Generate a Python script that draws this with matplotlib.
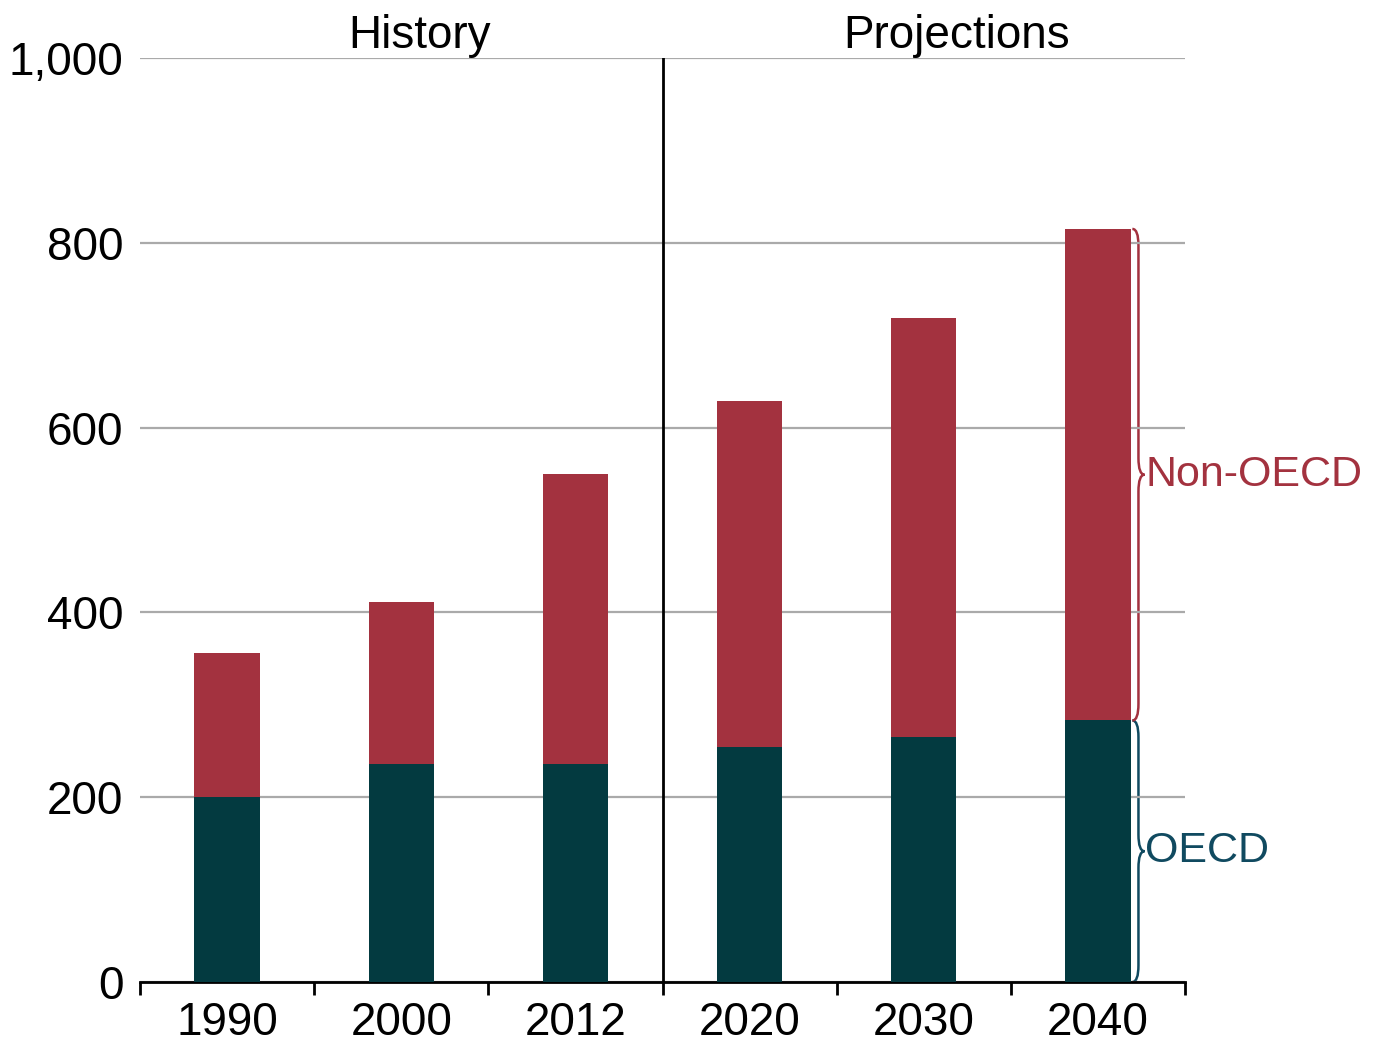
import numpy as np
import matplotlib.pyplot as plt
from matplotlib.path import Path
from matplotlib.patches import PathPatch

plt.rcParams['font.family'] = ['Liberation Sans', 'DejaVu Sans']

years = ['1990', '2000', '2012', '2020', '2030', '2040']
oecd = [200, 236, 236, 254, 265, 283]
non_oecd = [156, 175, 314, 375, 454, 532]
yticks = [0, 200, 400, 600, 800, 1000]
ytick_labels = ['0', '200', '400', '600', '800', '1,000']

red = '#A3323F'
teal = '#033A40'
label_blue = '#104A60'


# curly brace along a vertical span, bulging to the right
def brace(ax, x, y0, y1, w, color):
    ym = (y0 + y1) / 2
    h = min(18, (y1 - y0) / 6)
    xm = x + w / 2
    verts = [(x, y0), (xm, y0), (xm, y0 + h),
             (xm, ym - h),
             (xm, ym), (x + w, ym),
             (xm, ym), (xm, ym + h),
             (xm, y1 - h),
             (xm, y1), (x, y1)]
    codes = [Path.MOVETO, Path.CURVE3, Path.CURVE3,
             Path.LINETO,
             Path.CURVE3, Path.CURVE3,
             Path.CURVE3, Path.CURVE3,
             Path.LINETO,
             Path.CURVE3, Path.CURVE3]
    ax.add_patch(PathPatch(Path(verts, codes), fill=False, edgecolor=color,
                           lw=1.8, clip_on=False))


fig = plt.figure(figsize=(13.77, 10.49), dpi=100)
ax = fig.add_axes([0.1017, 0.0639, 0.7589, 0.8808])

x = np.arange(len(years))
bw = 0.375
ax.bar(x, oecd, width=bw, color=teal, zorder=3)
ax.bar(x, non_oecd, width=bw, bottom=oecd, color=red, zorder=3)

ax.set_xlim(-0.5, len(years) - 0.5)
ax.set_ylim(0, 1000)
ax.set_yticks(yticks)
ax.set_yticklabels(ytick_labels)
ax.yaxis.grid(True, color='#AAAAAA', lw=1.6, zorder=0)
ax.tick_params(axis='y', length=0, pad=12, labelsize=33)

ax.set_xticks(x)
ax.set_xticklabels(years)
ax.set_xticks(np.arange(len(years) + 1) - 0.5, minor=True)
ax.tick_params(axis='x', which='major', length=0, pad=14, labelsize=33)
ax.tick_params(axis='x', which='minor', direction='out', length=9, width=2)

for s in ['top', 'right', 'left']:
    ax.spines[s].set_visible(False)
ax.spines['bottom'].set_linewidth(2)

ax.axvline(2.5, color='black', lw=2, zorder=4)

ax.text(1.107, 1024, 'History', ha='center', va='center', fontsize=33, clip_on=False)
ax.text(4.19, 1024, 'Projections', ha='center', va='center', fontsize=33, clip_on=False)

# braces and labels next to the last bar
last = len(years) - 1
bx = last + bw / 2 + 0.01
total = oecd[last] + non_oecd[last]
brace(ax, bx, 0, oecd[last], 0.07, label_blue)
brace(ax, bx, oecd[last], total, 0.07, red)
ax.text(bx + 0.075, oecd[last] / 2, 'OECD', color=label_blue, fontsize=31,
        ha='left', va='center', clip_on=False)
ax.text(bx + 0.075, (oecd[last] + total) / 2, 'Non-OECD', color=red, fontsize=31,
        ha='left', va='center', clip_on=False)

fig.savefig('out.png', dpi=100)
